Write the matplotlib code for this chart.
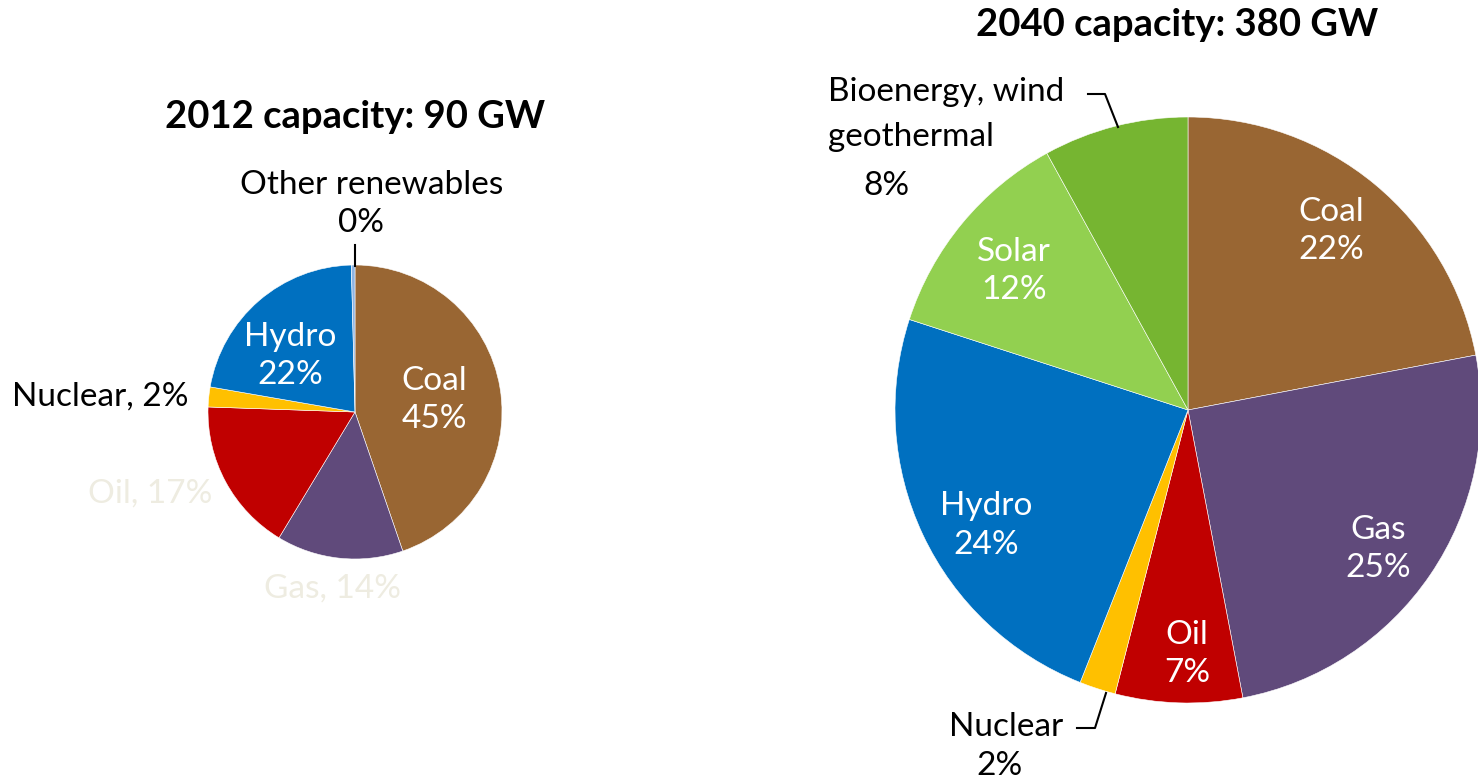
import matplotlib
matplotlib.use('Agg')
import matplotlib.pyplot as plt

plt.rcParams['font.family'] = ['Lato', 'DejaVu Sans']

W, H = 1478, 781

# --- data -----------------------------------------------------------------
labels_2012 = ['Coal', 'Gas', 'Oil', 'Nuclear', 'Hydro', 'Other renewables']
share_2012 = [45, 14, 17, 2.2, 22, 0.4]
colors_2012 = ['#996633', '#604A7B', '#C00000', '#FFC000', '#0070C0', '#8EB4E3']

labels_2040 = ['Coal', 'Gas', 'Oil', 'Nuclear', 'Hydro', 'Solar',
               'Bioenergy, wind geothermal']
share_2040 = [22, 25, 7, 2, 24, 12, 8]
colors_2040 = ['#996633', '#604A7B', '#C00000', '#FFC000', '#0070C0',
               '#92D050', '#76B531']

title_2012 = '2012 capacity: 90 GW'
title_2040 = '2040 capacity: 380 GW'

# --- layout (image pixel coords, y downward) --------------------------------
PIE_2012 = dict(cx=355, cy=412, r=147)
PIE_2040 = dict(cx=1188, cy=410, r=293)
FS = 24
FS_TITLE = 27.5
FAINT = '#EEECE1'


def Y(y):
    return H - y


fig = plt.figure(figsize=(W / 100, H / 100), dpi=100)
ax = fig.add_axes([0, 0, 1, 1])

for vals, cols, p in [(share_2012, colors_2012, PIE_2012),
                      (share_2040, colors_2040, PIE_2040)]:
    ax.pie(vals, colors=cols, startangle=90, counterclock=False,
           center=(p['cx'], Y(p['cy'])), radius=p['r'], frame=True,
           wedgeprops=dict(edgecolor='white', linewidth=0.4))
ax.set_xlim(0, W)
ax.set_ylim(0, H)
ax.set_aspect('equal')
ax.axis('off')


def txt(x, y, s, color='black', ha='center', size=FS, **kw):
    ax.text(x, Y(y), s, color=color, ha=ha, va='center', fontsize=size, **kw)


# titles
txt(355, 117, title_2012, fontweight='bold', size=FS_TITLE)
txt(1177, 25, title_2040, fontweight='bold', size=FS_TITLE)

# 2012 labels
txt(372, 185, 'Other renewables')
txt(361, 223, '0%')
ax.plot([355, 355], [Y(245), Y(266)], color='black', lw=1.5)
txt(290, 337, 'Hydro', color='white')
txt(290, 375, '22%', color='white')
txt(434, 381, 'Coal', color='white')
txt(434, 419, '45%', color='white')
txt(188, 397, 'Nuclear, 2%', ha='right')
txt(212, 494, 'Oil, 17%', color=FAINT, ha='right')
txt(333, 589, 'Gas, 14%', color=FAINT)

# 2040 labels
txt(1331, 212, 'Coal', color='white')
txt(1331, 250, '22%', color='white')
txt(1378, 530, 'Gas', color='white')
txt(1378, 568, '25%', color='white')
txt(1187, 635, 'Oil', color='white')
txt(1187, 673, '7%', color='white')
txt(986, 506, 'Hydro', color='white')
txt(986, 545, '24%', color='white')
txt(1014, 252, 'Solar', color='white')
txt(1014, 290, '12%', color='white')
txt(828, 92, 'Bioenergy, wind', ha='left')
txt(828, 137, 'geothermal', ha='left')
txt(886, 186, '8%')
ax.plot([1088, 1105, 1118], [Y(94), Y(94), Y(127)], color='black', lw=1.5)
txt(1063, 727, 'Nuclear', ha='right')
txt(1000, 766, '2%')
ax.plot([1077, 1095, 1106], [Y(728), Y(728), Y(693)], color='black', lw=1.5)

fig.savefig('out.png', dpi=100)
